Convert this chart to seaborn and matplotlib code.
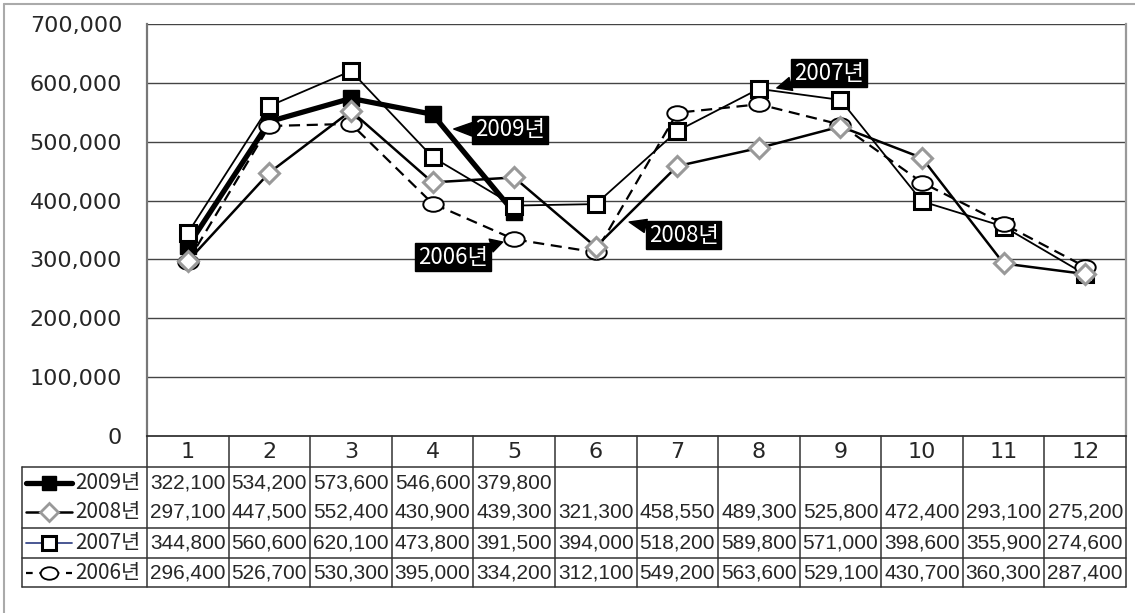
import numpy as np
import pandas as pd
import seaborn as sns
import matplotlib.pyplot as plt
from matplotlib.lines import Line2D
from matplotlib.markers import MarkerStyle
from matplotlib.transforms import Affine2D
from matplotlib.ticker import FuncFormatter

months = list(range(1, 13))
y2009 = [322100, 534200, 573600, 546600, 379800]
y2008 = [297100, 447500, 552400, 430900, 439300, 321300, 458550, 489300, 525800, 472400, 293100, 275200]
y2007 = [344800, 560600, 620100, 473800, 391500, 394000, 518200, 589800, 571000, 398600, 355900, 274600]
y2006 = [296400, 526700, 530300, 395000, 334200, 312100, 549200, 563600, 529100, 430700, 360300, 287400]
labels = ['2009년', '2008년', '2007년', '2006년']
yticks = [0, 100000, 200000, 300000, 400000, 500000, 600000, 700000]

sns.set_style("white")
KR = ['Noto Sans CJK KR', 'DejaVu Sans']

W, H = 1135, 613
fig = plt.figure(figsize=(W / 100, H / 100), dpi=100)

# plot area in pixels: x 147..1126, y 24..436
ax = fig.add_axes([147 / W, (H - 436) / H, (1126 - 147) / W, (436 - 24) / H])

ellipse = MarkerStyle('o', transform=Affine2D().scale(1.4, 1.0))

styles = {
    '2009년': dict(color='black', lw=3.8, marker='s', ms=11.5, mfc='black', mec='black', mew=1),
    '2007년': dict(color='black', lw=1.3, marker='s', ms=11.5, mfc='white', mec='black', mew=2.2),
    '2006년': dict(color='black', lw=1.6, ls=(0, (5, 3)), marker=ellipse, ms=10.5, mfc='white', mec='black', mew=1.4),
    '2008년': dict(color='black', lw=1.8, marker='D', ms=10, mfc='white', mec='#999999', mew=2.2),
}
series = {'2009년': y2009, '2008년': y2008, '2007년': y2007, '2006년': y2006}

for name in ['2009년', '2007년', '2006년', '2008년']:
    vals = series[name]
    df = pd.DataFrame({'month': months[:len(vals)], 'value': vals})
    sns.lineplot(data=df, x='month', y='value', ax=ax, **styles[name])

ax.set_xlim(0.5, 12.5)
ax.set_ylim(0, 700000)
ax.set_yticks(yticks)
ax.yaxis.set_major_formatter(FuncFormatter(lambda v, p: f'{int(v):,}'))
ax.set_xticks([])
ax.set_xlabel('')
ax.set_ylabel('')
for y in yticks[1:]:
    ax.axhline(y, color='#444444', lw=1, zorder=0)
ax.tick_params(axis='y', length=0, pad=18, labelsize=16)
for t in ax.get_yticklabels():
    t.set_family('DejaVu Sans')
ax.spines['top'].set_visible(False)
ax.spines['left'].set_color('#777777')
ax.spines['left'].set_linewidth(1.6)
ax.spines['right'].set_color('#999999')
ax.spines['right'].set_linewidth(1.6)
ax.spines['bottom'].set_color('#222222')
ax.spines['bottom'].set_linewidth(1.2)

# callouts (label, pointer tip, text centre) in data coords
callouts = [
    ('2009년', (4.26, 521600), (4.95, 520000)),
    ('2007년', (8.22, 591300), (8.86, 616700)),
    ('2008년', (6.41, 363600), (7.08, 341500)),
    ('2006년', (4.86, 329600), (4.25, 304100)),
]
for text, tip, pos in callouts:
    ax.annotate(text, xy=tip, xytext=pos, ha='center', va='center', color='white',
                fontsize=16, family=KR, zorder=10,
                bbox=dict(boxstyle='square,pad=0.12', fc='black', ec='black'),
                arrowprops=dict(arrowstyle='wedge,tail_width=0.6,shrink_factor=0.5',
                                fc='black', ec='black', shrinkA=0, shrinkB=0))

# data table under the chart, y in pixels below the x axis
tab = fig.add_axes([147 / W, (H - 587) / H, (1126 - 147) / W, (587 - 436) / H])
tab.set_xlim(0.5, 12.5)
tab.set_ylim(151, 0)
tab.axis('off')
left = 0.5 - (147 - 22) / 81.58
lc = dict(color='#333333', lw=1.1, clip_on=False)
for yb in [31, 92, 122, 151]:
    tab.plot([left, 12.5], [yb, yb], **lc)
tab.plot([left, left], [31, 151], **lc)
for xb in np.arange(0.5, 13.0, 1.0):
    tab.plot([xb, xb], [0, 151], **lc)

for m in months:
    tab.text(m, 16, str(m), ha='center', va='center', fontsize=16, family='DejaVu Sans')

row_y = [47, 76, 107, 137]
legend_styles = {
    '2009년': dict(color='black', lw=3.8, marker='s', ms=10, mfc='black', mec='black'),
    '2008년': dict(color='black', lw=1.8, marker='D', ms=9, mfc='white', mec='#999999', mew=2),
    '2007년': dict(color='#3a4a8a', lw=1.3, marker='s', ms=10, mfc='white', mec='black', mew=2.2),
    '2006년': dict(color='black', lw=1.6, ls=(0, (3, 3)), marker=ellipse, ms=9, mfc='white', mec='black', mew=1.3),
}
x0 = 0.5 - (147 - 26) / 81.58
x1 = 0.5 - (147 - 72) / 81.58
for name, yr in zip(labels, row_y):
    ln = Line2D([x0, x1], [yr, yr], **legend_styles[name], markevery=[])
    ln.set_clip_on(False)
    tab.add_line(ln)
    mk = Line2D([(x0 + x1) / 2], [yr], ls='none', **{k: v for k, v in legend_styles[name].items() if k not in ('ls', 'lw', 'color')})
    mk.set_clip_on(False)
    tab.add_line(mk)
    tab.text(0.5 - (147 - 75) / 81.58, yr, name, ha='left', va='center', fontsize=15, family=KR)
    for m, v in zip(months, series[name]):
        tab.text(m, yr, f'{v:,}', ha='center', va='center', fontsize=15, family='Liberation Sans')

# outer frame
fig.add_artist(Line2D([4 / W, 4 / W], [0, 1 - 4 / H], color='#aaaaaa', lw=1.5))
fig.add_artist(Line2D([4 / W, 1], [1 - 4 / H, 1 - 4 / H], color='#aaaaaa', lw=1.5))

fig.savefig('out.png', dpi=100)
